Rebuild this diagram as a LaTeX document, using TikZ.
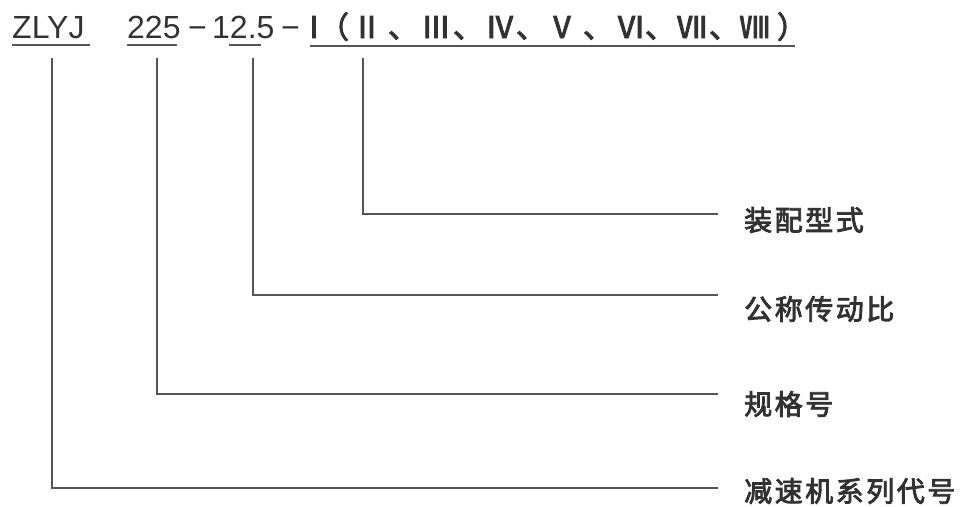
\documentclass[tikz,border=0pt]{standalone}
\usepackage{fontspec}
\setmainfont{Liberation Sans}
\newfontfamily\cjk[LetterSpace=9,FakeBold=3]{Noto Sans CJK SC}
\newfontfamily\cjknum[FakeBold=3]{Noto Sans CJK SC}
\usetikzlibrary{positioning}
\definecolor{inkgrey}{RGB}{50,50,50}
\definecolor{linegrey}{RGB}{85,85,85}

\tikzset{
	code/.style={anchor=base west, inner sep=0pt, text=inkgrey,
		font=\fontsize{32}{32}\selectfont},
	romcode/.style={anchor=base, inner sep=0pt, text=inkgrey,
		font=\cjknum\fontsize{30}{30}\selectfont},
	meaning/.style={anchor=west, inner sep=0pt, text=inkgrey,
		font=\cjk\fontsize{28}{28}\selectfont},
	uline/.style={draw=linegrey, line width=1.6pt},
	lead/.style={draw=linegrey, line width=1.6pt}
}

\begin{document}
\begin{tikzpicture}[x=1pt,y=-1pt]
	\useasboundingbox (0,0) rectangle (966,506);
	% model code
	\node[code] (series) at (12,38) {ZLYJ};
	\node[code] (size) at (127,38) {225};
	\node[code] (dash1) at (188,38) {−};
	\node[code] (ratio) at (212,38) {12.5};
	\node[code] (dash2) at (281,38) {−};
	\foreach \x/\g [count=\i] in {314/Ⅰ, 334/（, 367/Ⅱ, 403/、, 436/Ⅲ, 468/、,
		500/Ⅳ, 531/、, 562/Ⅴ, 598/、, 631/Ⅵ, 660/、, 692/Ⅶ, 724/、, 755/Ⅷ, 792/）}
		\node[romcode] (form\i) at (\x,38) {\g};
	\draw[uline] (12,45) -- (90,45);
	\draw[uline] (127,45) -- (177,45);
	\draw[uline] (229,45) -- (261,45);
	\draw[uline] (310,46) -- (795,46);
	% meanings
	\node[meaning] (formtxt) at (744,220) {装配型式};
	\node[meaning] (ratiotxt) at (744,309) {公称传动比};
	\node[meaning] (sizetxt) at (744,404) {规格号};
	\node[meaning] (seriestxt) at (744,491) {减速机系列代号};
	% leaders
	\coordinate (f0) at (363,58);  \coordinate (f1) at (718,214);
	\coordinate (r0) at (253,58);  \coordinate (r1) at (718,295);
	\coordinate (s0) at (157,58);  \coordinate (s1) at (718,394);
	\coordinate (z0) at (52,58);   \coordinate (z1) at (718,488);
	\draw[lead] (f0) |- (f1);
	\draw[lead] (r0) |- (r1);
	\draw[lead] (s0) |- (s1);
	\draw[lead] (z0) |- (z1);
\end{tikzpicture}
\end{document}
